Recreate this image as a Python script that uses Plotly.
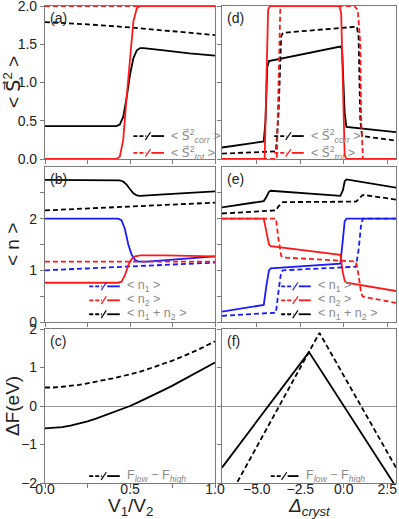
import plotly.graph_objects as go

# ---------------- data ----------------
# (a) <S^2> vs V1/V2
a_x_corr_dash = [0.0, 0.25, 0.5, 0.75, 1.0]
a_y_corr_dash = [1.79, 1.76, 1.72, 1.67, 1.62]
a_x_corr_sol = [0.0, 0.42, 0.44, 0.46, 0.48, 0.50, 0.52, 0.54, 0.56, 0.58, 0.70, 0.85, 1.0]
a_y_corr_sol = [0.43, 0.43, 0.45, 0.55, 0.80, 1.10, 1.32, 1.42, 1.45, 1.45, 1.42, 1.38, 1.35]
a_x_tot_dash = [0.0, 1.0]
a_y_tot_dash = [2.0, 2.0]
a_x_tot_sol = [0.0, 0.42, 0.44, 0.46, 0.48, 0.49, 0.50, 0.52, 0.54, 0.56, 1.0]
a_y_tot_sol = [0.0, 0.0, 0.03, 0.25, 0.80, 1.05, 1.35, 1.80, 1.97, 2.0, 2.0]

# (b) <n> vs V1/V2
b_x_tot_sol = [0.0, 0.44, 0.46, 0.48, 0.50, 0.52, 0.54, 0.56, 0.70, 1.0]
b_y_tot_sol = [2.75, 2.74, 2.72, 2.66, 2.57, 2.49, 2.45, 2.44, 2.47, 2.53]
b_x_tot_dash = [0.0, 0.5, 1.0]
b_y_tot_dash = [2.16, 2.23, 2.31]
b_x_n1_sol = [0.0, 0.43, 0.45, 0.47, 0.49, 0.51, 0.53, 0.55, 0.60, 1.0]
b_y_n1_sol = [2.0, 2.0, 1.97, 1.80, 1.50, 1.30, 1.20, 1.17, 1.17, 1.27]
b_x_n1_dash = [0.0, 0.5, 1.0]
b_y_n1_dash = [1.0, 1.07, 1.15]
b_x_n2_dash = [0.0, 1.0]
b_y_n2_dash = [1.17, 1.17]
b_x_n2_sol = [0.0, 0.43, 0.45, 0.47, 0.49, 0.51, 0.53, 0.56, 0.70, 1.0]
b_y_n2_sol = [0.76, 0.76, 0.78, 0.90, 1.10, 1.22, 1.27, 1.29, 1.29, 1.27]

# (c) Delta F vs V1/V2
c_x = [0.0, 0.05, 0.1, 0.15, 0.2, 0.25, 0.3, 0.35, 0.4, 0.45, 0.5,
       0.55, 0.6, 0.65, 0.7, 0.75, 0.8, 0.85, 0.9, 0.95, 1.0]
c_y_sol = [-0.58, -0.57, -0.55, -0.51, -0.46, -0.40, -0.33, -0.25, -0.17, -0.09, 0.0,
           0.10, 0.20, 0.31, 0.42, 0.53, 0.65, 0.77, 0.89, 1.01, 1.13]
c_y_dash = [0.48, 0.48, 0.50, 0.52, 0.55, 0.59, 0.63, 0.67, 0.72, 0.77, 0.82,
            0.88, 0.95, 1.02, 1.10, 1.18, 1.27, 1.36, 1.46, 1.57, 1.68]

# (d) <S^2> vs Delta_cryst
d_x_corr_sol = [-7, -4.6, -4.5, -4.4, -4.3, -0.2, -0.1, 0.05, 0.15, 3]
d_y_corr_sol = [0.15, 0.23, 0.5, 1.2, 1.28, 1.47, 1.44, 0.6, 0.42, 0.35]
d_x_corr_dash = [-7, -3.9, -3.75, -3.6, -3.5, 0.75, 0.85, 0.95, 1.05, 3]
d_y_corr_dash = [0.07, 0.10, 0.6, 1.6, 1.65, 1.73, 1.6, 0.5, 0.3, 0.24]
d_x_tot_sol = [-7, -4.55, -4.45, -4.35, -4.25, -0.25, -0.15, -0.05, 0.05, 0.15, 3]
d_y_tot_sol = [0, 0, 1.0, 1.95, 2.0, 2.0, 1.9, 1.0, 0.05, 0, 0]
d_x_tot_dash = [-7, -3.85, -3.75, -3.65, -3.55, 0.6, 0.8, 0.95, 1.0, 1.1, 3]
d_y_tot_dash = [0, 0, 1.0, 1.95, 2.0, 2.0, 1.95, 1.5, 0.5, 0, 0]

# (e) <n> vs Delta_cryst
e_x_sol = [-7, -4.6, -4.45, -4.3, -4.2, -0.2, -0.05, 0.05, 0.15, 3]
e_y_tot_sol = [2.22, 2.34, 2.42, 2.52, 2.54, 2.44, 2.55, 2.72, 2.76, 2.6]
e_y_n1_sol = [0.2, 0.33, 0.7, 1.0, 1.04, 1.13, 1.6, 1.95, 2.0, 2.0]
e_y_n2_sol = [2.0, 2.0, 1.75, 1.5, 1.47, 1.3, 0.95, 0.8, 0.76, 0.6]
e_x_dash = [-7, -3.9, -3.75, -3.6, -3.5, 0.7, 0.85, 1.0, 1.1, 3]
e_y_tot_dash = [2.1, 2.16, 2.24, 2.3, 2.32, 2.33, 2.38, 2.44, 2.46, 2.37]
e_y_n1_dash = [0.12, 0.18, 0.6, 0.97, 1.0, 1.07, 1.4, 1.9, 2.0, 2.0]
e_y_n2_dash = [2.0, 2.0, 1.6, 1.28, 1.25, 1.17, 0.9, 0.55, 0.49, 0.37]

# (f) Delta F vs Delta_cryst
f_x_sol = [-7, -2.0, 3]
f_y_sol = [-1.6, 1.4, -2.1]
f_x_dash = [-7, -1.4, 3]
f_y_dash = [-2.7, 1.9, -1.6]

# tick labels
ax_left_vals = [0, 0.25, 0.5, 0.75, 1.0]
ax_left_text = ["0.0", "", "0.5", "", "1.0"]
ax_right_vals = [-5, -2.5, 0, 2.5]
ax_right_text = ["\u22125.0", "\u22122.5", "0.0", "2.5"]
yS_vals = [0, 0.5, 1.0, 1.5, 2.0]
yS_text = ["0.0", "0.5", "1.0", "1.5", "2.0"]
yn_vals = [0, 0.5, 1, 1.5, 2, 2.5]
yn_text = ["0", "", "1", "", "2", ""]
yF_vals = [-2, -1, 0, 1, 2]
yF_text = ["\u22122", "\u22121", "0", "1", "2"]

# ---------------- figure ----------------
W, H = 399, 519
RED = "#ff1a1a"
BLUE = "#1a1aff"
BLACK = "#000000"
FRAME = "#7a7a7a"
FONT = "Liberation Sans, Arial, sans-serif"

def PX(p):
    return p / W

def PY(p):
    return 1 - p / H

colx = [(PX(45), PX(215)), (PX(222), PX(396))]
rowy = [(PY(159), PY(6)), (PY(322), PY(167)), (PY(483), PY(329))]

fig = go.Figure()

def add(ax, x, y, color, dash):
    xa = "x" if ax == 1 else f"x{ax}"
    ya = "y" if ax == 1 else f"y{ax}"
    fig.add_trace(go.Scatter(x=x, y=y, mode="lines", xaxis=xa, yaxis=ya,
                             line=dict(color=color, width=1.8, dash=dash),
                             showlegend=False, hoverinfo="skip"))

SOLID, DASH = "solid", "5px,3px"
# axes numbering: 1=(a),2=(d),3=(b),4=(e),5=(c),6=(f)
add(1, a_x_corr_dash, a_y_corr_dash, BLACK, DASH)
add(1, a_x_corr_sol, a_y_corr_sol, BLACK, SOLID)
add(1, a_x_tot_dash, a_y_tot_dash, RED, DASH)
add(1, a_x_tot_sol, a_y_tot_sol, RED, SOLID)

add(2, d_x_corr_sol, d_y_corr_sol, BLACK, SOLID)
add(2, d_x_corr_dash, d_y_corr_dash, BLACK, DASH)
add(2, d_x_tot_sol, d_y_tot_sol, RED, SOLID)
add(2, d_x_tot_dash, d_y_tot_dash, RED, DASH)

add(3, b_x_tot_sol, b_y_tot_sol, BLACK, SOLID)
add(3, b_x_tot_dash, b_y_tot_dash, BLACK, DASH)
add(3, b_x_n1_sol, b_y_n1_sol, BLUE, SOLID)
add(3, b_x_n1_dash, b_y_n1_dash, BLUE, DASH)
add(3, b_x_n2_dash, b_y_n2_dash, RED, DASH)
add(3, b_x_n2_sol, b_y_n2_sol, RED, SOLID)

add(4, e_x_sol, e_y_tot_sol, BLACK, SOLID)
add(4, e_x_dash, e_y_tot_dash, BLACK, DASH)
add(4, e_x_sol, e_y_n1_sol, BLUE, SOLID)
add(4, e_x_sol, e_y_n2_sol, RED, SOLID)
add(4, e_x_dash, e_y_n1_dash, BLUE, DASH)
add(4, e_x_dash, e_y_n2_dash, RED, DASH)

add(5, c_x, c_y_sol, BLACK, SOLID)
add(5, c_x, c_y_dash, BLACK, DASH)

add(6, f_x_sol, f_y_sol, BLACK, SOLID)
add(6, f_x_dash, f_y_dash, BLACK, DASH)

tickfont = dict(family=FONT, size=14, color="#222222")
common = dict(showline=True, linecolor=FRAME, linewidth=1.2, mirror=True,
              ticks="outside", ticklen=4, tickcolor=FRAME, tickwidth=1,
              showgrid=False, zeroline=False, tickfont=tickfont, automargin=False,
              ticklabeloverflow="allow")

layout = dict(width=W, height=H, margin=dict(l=0, r=0, t=0, b=0),
              plot_bgcolor="white", paper_bgcolor="white", showlegend=False)

for ax in range(1, 7):
    row = (ax - 1) // 2
    col = (ax - 1) % 2
    xk = "xaxis" if ax == 1 else f"xaxis{ax}"
    yk = "yaxis" if ax == 1 else f"yaxis{ax}"
    ya = "y" if ax == 1 else f"y{ax}"
    xa = "x" if ax == 1 else f"x{ax}"
    xd = dict(common, domain=list(colx[col]), anchor=ya, ticklabelstandoff=-11)
    if col == 0:
        xd.update(range=[0, 1], tickvals=ax_left_vals, ticktext=ax_left_text)
    else:
        xd.update(range=[-7, 3], tickvals=ax_right_vals, ticktext=ax_right_text)
    if row < 2:
        xd.update(showticklabels=False)
    yd = dict(common, domain=list(rowy[row]), anchor=xa)
    if row == 0:
        yd.update(range=[0, 2], tickvals=yS_vals, ticktext=yS_text)
    elif row == 1:
        yd.update(range=[0, 3], tickvals=yn_vals, ticktext=yn_text)
    else:
        yd.update(range=[-2, 2], tickvals=yF_vals, ticktext=yF_text,
                  zeroline=True, zerolinecolor="#999999", zerolinewidth=1)
    if col == 1:
        yd.update(showticklabels=False)
    layout[xk] = xd
    layout[yk] = yd

fig.update_layout(**layout)

ann = []
shapes = []
labfont = dict(family=FONT, size=14, color="#222222")
legfont = dict(family=FONT, size=12.5, color="#8a8a8a")

panels = {1: "(a)", 2: "(d)", 3: "(b)", 4: "(e)", 5: "(c)", 6: "(f)"}
for ax, lab in panels.items():
    xa = "x" if ax == 1 else f"x{ax}"
    ya = "y" if ax == 1 else f"y{ax}"
    ann.append(dict(text=lab, xref=f"{xa} domain", yref=f"{ya} domain",
                    x=0.02, y=0.985, xanchor="left", yanchor="top",
                    showarrow=False, font=labfont))

def legend_item(ax, x0, x1, xt, yy, color, text):
    xa = "x" if ax == 1 else f"x{ax}"
    ya = "y" if ax == 1 else f"y{ax}"
    xm = x0 + 0.42 * (x1 - x0)
    shapes.append(dict(type="line", xref=f"{xa} domain", yref=f"{ya} domain",
                       x0=x0, x1=xm, y0=yy, y1=yy,
                       line=dict(color=color, width=1.8, dash="4px,2px")))
    shapes.append(dict(type="line", xref=f"{xa} domain", yref=f"{ya} domain",
                       x0=xm + 0.03, x1=x1, y0=yy, y1=yy,
                       line=dict(color=color, width=1.8)))
    shapes.append(dict(type="line", xref=f"{xa} domain", yref=f"{ya} domain",
                       x0=xm - 0.005, x1=xm + 0.025, y0=yy - 0.025, y1=yy + 0.025,
                       line=dict(color=color, width=1.2)))
    ann.append(dict(text=text, xref=f"{xa} domain", yref=f"{ya} domain",
                    x=xt, y=yy, xanchor="left", yanchor="middle",
                    showarrow=False, font=legfont))

SV = "<span style=\"font-family:'DejaVu Sans'\">S\u20d7</span>"
S_corr = "< " + SV + "<sup>2</sup><sub><i>corr</i></sub> >"
S_tot = "< " + SV + "<sup>2</sup><sub><i>tot</i></sub> >"
legend_item(1, 0.52, 0.70, 0.73, 0.15, BLACK, S_corr)
legend_item(1, 0.52, 0.70, 0.73, 0.04, RED, S_tot)
legend_item(2, 0.30, 0.47, 0.50, 0.15, BLACK, S_corr)
legend_item(2, 0.30, 0.47, 0.50, 0.04, RED, S_tot)

n1 = "< n<sub>1</sub> >"
n2 = "< n<sub>2</sub> >"
n12 = "< n<sub>1</sub> + n<sub>2</sub> >"
legend_item(3, 0.26, 0.44, 0.47, 0.23, BLUE, n1)
legend_item(3, 0.26, 0.44, 0.47, 0.14, RED, n2)
legend_item(3, 0.26, 0.44, 0.47, 0.05, BLACK, n12)
legend_item(4, 0.34, 0.51, 0.54, 0.23, BLUE, n1)
legend_item(4, 0.34, 0.51, 0.54, 0.14, RED, n2)
legend_item(4, 0.34, 0.51, 0.54, 0.05, BLACK, n12)

F_txt = "F<sub><i>low</i></sub> \u2212 F<sub><i>high</i></sub>"
legend_item(5, 0.26, 0.44, 0.47, 0.045, BLACK, F_txt)
legend_item(6, 0.28, 0.44, 0.47, 0.045, BLACK, F_txt)

titlefont = dict(family=FONT, size=19, color="#222222")
ann.append(dict(text="< " + SV + "<sup>2</sup> >", xref="paper", yref="paper",
                x=PX(12), y=PY(82), textangle=-90, showarrow=False,
                xanchor="center", yanchor="middle", font=titlefont))
ann.append(dict(text="< n >", xref="paper", yref="paper",
                x=PX(12), y=PY(245), textangle=-90, showarrow=False,
                xanchor="center", yanchor="middle", font=titlefont))
ann.append(dict(text="\u0394F(eV)", xref="paper", yref="paper",
                x=PX(12), y=PY(406), textangle=-90, showarrow=False,
                xanchor="center", yanchor="middle", font=titlefont))
ann.append(dict(text="V<sub>1</sub>/V<sub>2</sub>", xref="paper", yref="paper",
                x=PX(130), y=PY(507), showarrow=False,
                xanchor="center", yanchor="middle", font=titlefont))
ann.append(dict(text="<i>\u0394<sub>cryst</sub></i>", xref="paper", yref="paper",
                x=PX(309), y=PY(507), showarrow=False,
                xanchor="center", yanchor="middle", font=titlefont))

fig.update_layout(annotations=ann, shapes=shapes)
# the browser's default 8px body margin would shift the figure; remove it
fig.write_html("out.html", config={"displayModeBar": False},
               post_script="document.body.style.margin='0';document.body.style.padding='0';")
